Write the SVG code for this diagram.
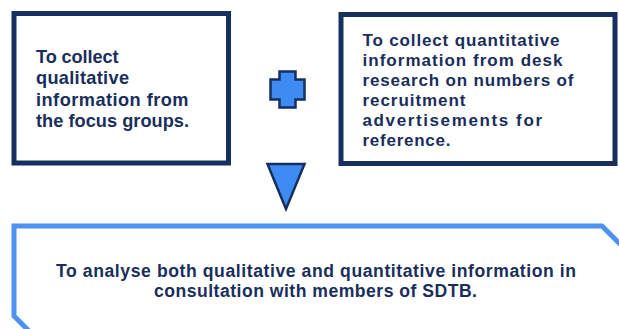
<svg xmlns="http://www.w3.org/2000/svg" width="619" height="329" viewBox="0 0 619 329">
  <style>
    .box { fill: #ffffff; stroke: #172f5f; stroke-width: 5; }
    .wide { fill: #ffffff; stroke: #4b92f3; stroke-width: 5; }
    .sym { fill: #3f8bf4; stroke: #172f5f; stroke-width: 2.5; stroke-linejoin: miter; }
    .lbl { font-family: "Liberation Sans", Arial, sans-serif; font-weight: bold; fill: #1a2e5c; }
  </style>

  <!-- first source: focus groups -->
  <g id="node-qualitative">
    <rect class="box" x="14" y="13.5" width="214.5" height="149.5"/>
    <text class="lbl" font-size="18.2">
      <tspan x="36" y="63" textLength="82.5" lengthAdjust="spacing">To collect</tspan>
      <tspan x="36" y="84.3" textLength="93" lengthAdjust="spacing">qualitative</tspan>
      <tspan x="36" y="105.6" textLength="152.5" lengthAdjust="spacing">information from</tspan>
      <tspan x="36" y="127" textLength="153" lengthAdjust="spacing">the focus groups.</tspan>
    </text>
  </g>

  <!-- second source: desk research -->
  <g id="node-quantitative">
    <rect class="box" x="341" y="14.5" width="274" height="149"/>
    <text class="lbl" font-size="17">
      <tspan x="362.5" y="45.7" textLength="197" lengthAdjust="spacing">To collect quantitative</tspan>
      <tspan x="362.5" y="65.7" textLength="200" lengthAdjust="spacing">information from desk</tspan>
      <tspan x="362.5" y="85.7" textLength="211" lengthAdjust="spacing">research on numbers of</tspan>
      <tspan x="362.5" y="105.7" textLength="103" lengthAdjust="spacing">recruitment</tspan>
      <tspan x="362.5" y="125.7" textLength="179.5" lengthAdjust="spacing">advertisements for</tspan>
      <tspan x="362.5" y="145.7" textLength="88" lengthAdjust="spacing">reference.</tspan>
    </text>
  </g>

  <!-- plus sign and down arrow joining the two sources -->
  <g id="connectors">
    <path id="plus" class="sym" d="M279.5,71.5 H295.5 V79.5 H304.5 V99.5 H295.5 V107.5 H279.5 V99.5 H270.5 V79.5 H279.5 Z"/>
    <polygon id="arrow" class="sym" points="267.5,164 304.5,164 286,209"/>
  </g>

  <!-- combined analysis, snipped corners top-right and bottom-left -->
  <g id="node-analysis">
    <polygon class="wide" points="14,226 602,226 626,250 626,340 38,340 14,316"/>
    <text class="lbl" font-size="17.6">
      <tspan x="56" y="276.7" textLength="520" lengthAdjust="spacing">To analyse both qualitative and quantitative information in</tspan>
      <tspan x="154" y="297.3" textLength="323" lengthAdjust="spacing">consultation with members of SDTB.</tspan>
    </text>
  </g>
</svg>
